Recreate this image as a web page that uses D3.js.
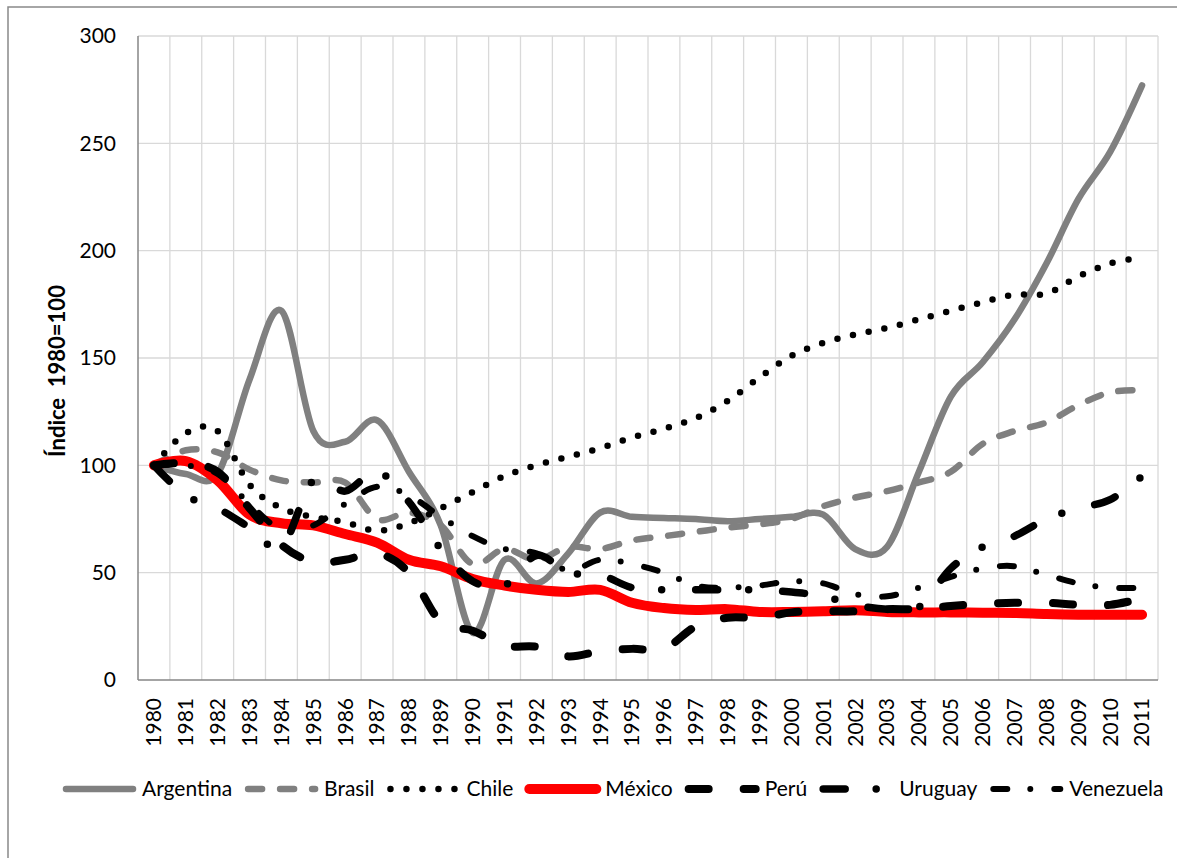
<!DOCTYPE html>
<html>
<head>
<meta charset="utf-8">
<script src="https://cdn.jsdelivr.net/npm/d3@7"></script>
<style>
  body { margin: 0; background: #fff; }
  svg { display: block; }
  text { font-family: Lato, "Noto Sans", sans-serif; fill: #000; }
</style>
</head>
<body>
<svg id="chart"></svg>
<script>
// datos (índice 1980=100)
const years = ["1980","1981","1982","1983","1984","1985","1986","1987","1988","1989",
  "1990","1991","1992","1993","1994","1995","1996","1997","1998","1999",
  "2000","2001","2002","2003","2004","2005","2006","2007","2008","2009","2010","2011"];
const yTicks = [0, 50, 100, 150, 200, 250, 300];

const argentina = [100, 96, 96, 140, 172, 116, 111, 121, 97, 72, 22, 56, 45, 59, 78, 76, 75.5, 75, 74, 75, 76, 77, 61, 62, 97, 132, 148, 168, 194, 224, 246, 277];
const brasil    = [100, 107, 106, 98, 93, 92, 92, 75, 78, 72, 54, 61, 56, 62, 61, 65, 67, 69, 71, 72.5, 75, 81, 85, 88, 92, 97, 110, 116, 120, 128, 134, 135];
const chile     = [100, 115, 116, 91, 80, 76, 73.5, 69.5, 73, 80, 87.5, 95, 100, 104, 108, 113, 117, 122, 130, 141, 151, 157, 161, 164, 168, 172, 176, 179.5, 180, 188, 194, 197];
const mexico    = [100, 102, 93, 77, 73, 72, 68, 64, 56, 53, 47, 44, 42, 41, 42, 36, 33.5, 32.6, 33, 31.7, 31.7, 32, 32.5, 31.7, 31.5, 31.5, 31.3, 31.2, 30.7, 30.4, 30.4, 30.4];
const peru      = [100, 101, 97, 80, 63, 55, 56, 59, 50, 27, 23, 16, 15.5, 11, 13.5, 14.5, 14.5, 25, 29, 29, 31.5, 32, 32, 33, 33, 34.5, 35.5, 36, 36, 35, 35, 38];
const uruguay   = [100, 86, 80, 71, 62, 93, 88, 97, 83, 61, 46, 44, 58, 50, 49, 43, 42, 42, 42, 42, 41, 39, 35, 33, 34, 52, 62, 67, 75, 80, 84, 95];
const venezuela = [100, 100, 96, 82, 70, 72, 82, 90, 86, 76, 67, 61, 59, 51, 56, 54, 50, 44, 43, 44, 46, 45, 40, 39, 43, 48, 52, 53, 49, 45, 43, 43];

const series = [
  { name: "Argentina", values: argentina, color: "#808080", width: 6.5, dash: null },
  { name: "Brasil",    values: brasil,    color: "#808080", width: 6.5, dash: "14 18" },
  { name: "Chile",     values: chile,     color: "#000",    width: 6.5, dash: "0 16" },
  { name: "México",    values: mexico,    color: "#ff0000", width: 10,  dash: null },
  { name: "Perú",      values: peru,      color: "#000",    width: 8,   dash: "20 35" },
  { name: "Uruguay",   values: uruguay,   color: "#000",    width: 7.5, dash: "22 31 0 34" },
  { name: "Venezuela", values: venezuela, color: "#000",    width: 6,   dash: "14 23 0 24" }
];

const W = 1177, H = 858;
const plot = { left: 138, right: 1158, top: 36, bottom: 680 };

const svg = d3.select("#chart").attr("width", W).attr("height", H);

// marco del área del gráfico
svg.append("rect")
  .attr("x", 8).attr("y", 7)
  .attr("width", W).attr("height", H)
  .attr("fill", "none").attr("stroke", "#898989").attr("stroke-width", 1.5);

const x = d3.scaleBand().domain(years).range([plot.left, plot.right]);
const y = d3.scaleLinear().domain([0, 300]).range([plot.bottom, plot.top]);
const cx = d => x(d) + x.bandwidth() / 2;

// rejilla
const grid = svg.append("g").attr("stroke", "#d9d9d9").attr("stroke-width", 1.3);
grid.selectAll("line.h")
  .data(yTicks.slice(1))
  .enter().append("line")
    .attr("x1", plot.left).attr("x2", plot.right)
    .attr("y1", d => y(d)).attr("y2", d => y(d));
grid.selectAll("line.v")
  .data(years.slice(1).map(d => x(d)).concat([plot.right]))
  .enter().append("line")
    .attr("x1", d => d).attr("x2", d => d)
    .attr("y1", plot.top).attr("y2", plot.bottom);

// ejes
svg.append("line")
  .attr("x1", plot.left).attr("x2", plot.left)
  .attr("y1", plot.top).attr("y2", plot.bottom)
  .attr("stroke", "#868686").attr("stroke-width", 1.5);
svg.append("line")
  .attr("x1", plot.left).attr("x2", plot.right)
  .attr("y1", plot.bottom).attr("y2", plot.bottom)
  .attr("stroke", "#868686").attr("stroke-width", 1.5);

svg.append("g")
  .selectAll("text")
  .data(yTicks)
  .enter().append("text")
    .attr("x", 116)
    .attr("y", d => y(d))
    .attr("dy", "0.35em")
    .attr("text-anchor", "end")
    .attr("font-size", 21)
    .text(d => d);

svg.append("g")
  .selectAll("text")
  .data(years)
  .enter().append("text")
    .attr("transform", d => "translate(" + cx(d) + ",698)rotate(-90)")
    .attr("dy", "0.35em")
    .attr("text-anchor", "end")
    .attr("font-size", 21)
    .text(d => d);

svg.append("text")
  .attr("transform", "translate(57,371)rotate(-90)")
  .attr("dy", "0.35em")
  .attr("text-anchor", "middle")
  .attr("font-size", 22)
  .attr("font-weight", "700")
  .attr("xml:space", "preserve")
  .text("Índice  1980=100");

// líneas suavizadas
const line = d3.line()
  .x((v, i) => cx(years[i]))
  .y(v => y(v))
  .curve(d3.curveCardinal.tension(0));

svg.append("g")
  .selectAll("path")
  .data(series)
  .enter().append("path")
    .attr("d", d => line(d.values))
    .attr("fill", "none")
    .attr("stroke", d => d.color)
    .attr("stroke-width", d => d.width)
    .attr("stroke-linecap", "round")
    .attr("stroke-linejoin", "round")
    .attr("stroke-dasharray", d => d.dash);

// leyenda
const legend = svg.append("g").attr("transform", "translate(0,789)");
let lx = 63;
series.forEach(s => {
  legend.append("line")
    .attr("x1", lx + 3).attr("x2", lx + 70)
    .attr("stroke", s.color)
    .attr("stroke-width", s.width)
    .attr("stroke-linecap", "round")
    .attr("stroke-dasharray", s.dash);
  const t = legend.append("text")
    .attr("x", lx + 79)
    .attr("dy", "0.35em")
    .attr("font-size", 21)
    .text(s.name);
  lx += 79 + t.node().getComputedTextLength() + 13;
});
</script>
</body>
</html>
